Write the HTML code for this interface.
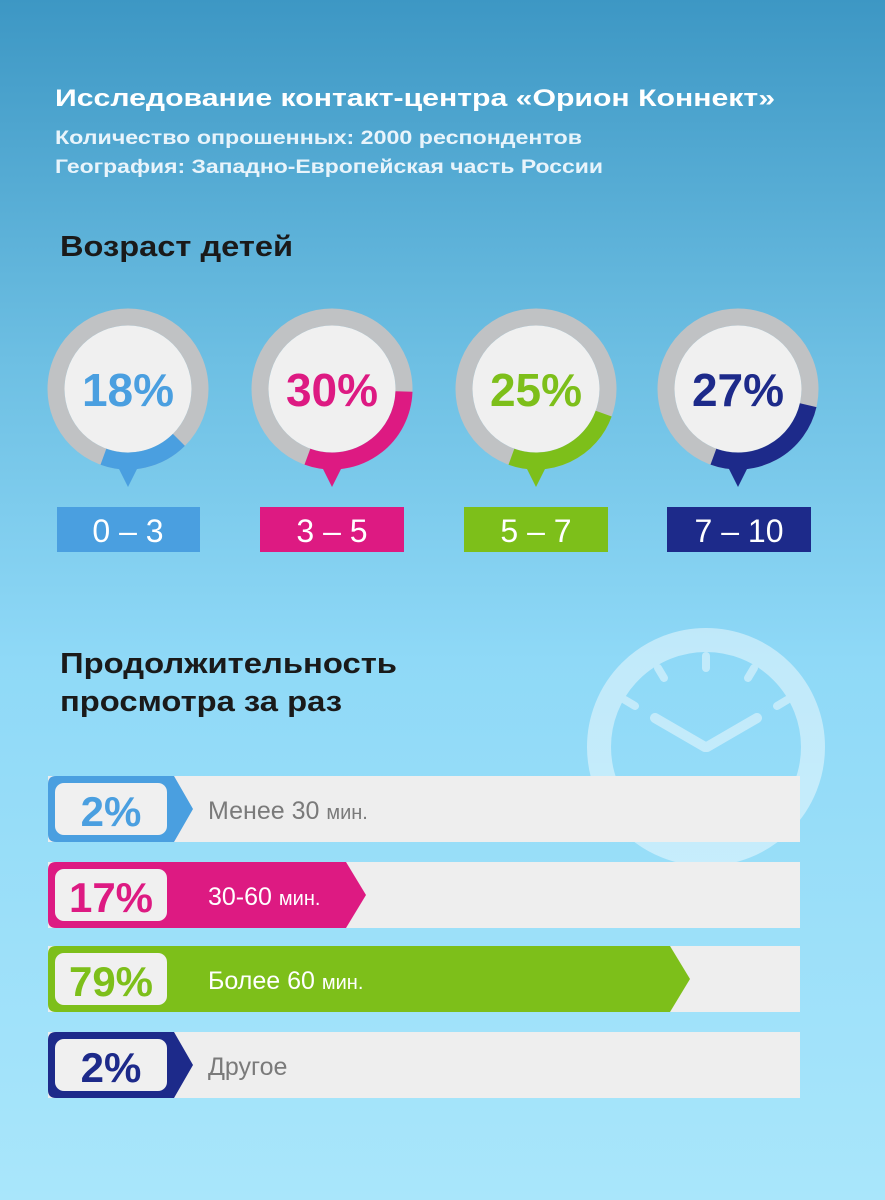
<!DOCTYPE html>
<html><head><meta charset="utf-8"><style>
html,body{margin:0;padding:0}
body{width:885px;height:1200px;overflow:hidden;font-family:"Liberation Sans","DejaVu Sans",sans-serif}
</style></head><body>
<svg width="885" height="1200" xmlns="http://www.w3.org/2000/svg" font-family="Liberation Sans, DejaVu Sans, sans-serif" style="display:block">
<defs>
<linearGradient id="bg" x1="0" y1="0" x2="0" y2="1">
<stop offset="0" stop-color="#3d97c4"/>
<stop offset="0.3" stop-color="#6dbfe3"/>
<stop offset="0.55" stop-color="#8fd9f7"/>
<stop offset="1" stop-color="#a9e6fb"/>
</linearGradient>
</defs>
<rect width="885" height="1200" fill="url(#bg)"/>
<!-- clock -->
<g opacity="0.45">
<circle cx="706" cy="747" r="107" fill="none" stroke="#ffffff" stroke-width="24"/>
<g stroke="#fff" stroke-width="8" stroke-linecap="round">
<line x1="706" y1="656" x2="706" y2="668"/>
<line x1="658" y1="668" x2="664" y2="678"/>
<line x1="754" y1="668" x2="748" y2="678"/>
<line x1="625" y1="700" x2="635" y2="706"/>
<line x1="787" y1="700" x2="777" y2="706"/>
<line x1="655" y1="718" x2="705" y2="747" stroke-width="10"/>
<line x1="757" y1="718" x2="707" y2="747" stroke-width="10"/>
</g>
</g>
<!-- header -->
<text x="55" y="106" fill="#fff" font-size="24" font-weight="bold" textLength="720" lengthAdjust="spacingAndGlyphs">Исследование контакт-центра «Орион Коннект»</text>
<text x="55" y="144" fill="#e8f4fb" font-size="19" font-weight="bold" textLength="527" lengthAdjust="spacingAndGlyphs">Количество опрошенных: 2000 респондентов</text>
<text x="55" y="173" fill="#e8f4fb" font-size="19" font-weight="bold" textLength="548" lengthAdjust="spacingAndGlyphs">География: Западно-Европейская часть России</text>
<text x="60" y="256" fill="#1a1a1a" font-size="29" font-weight="bold" textLength="233" lengthAdjust="spacingAndGlyphs">Возраст детей</text>

<!-- donuts -->
<g transform="translate(128,389)">
<circle r="72" fill="none" stroke="#c0c2c4" stroke-width="17"/>
<circle r="63.5" fill="#f0f0f0"/>
<path d="M 50.9 50.9 A 72 72 0 0 1 -24.6 67.7" fill="none" stroke="#4a9fe0" stroke-width="17"/>
<polygon points="-10,78 10,78 0,98" fill="#4a9fe0"/>
<text y="17" text-anchor="middle" font-size="46" font-weight="bold" fill="#4a9fe0">18%</text>
</g>
<g transform="translate(332,389)">
<circle r="72" fill="none" stroke="#c0c2c4" stroke-width="17"/>
<circle r="63.5" fill="#f0f0f0"/>
<path d="M 72 2.5 A 72 72 0 0 1 -24.6 67.7" fill="none" stroke="#dd1a82" stroke-width="17"/>
<polygon points="-10,78 10,78 0,98" fill="#dd1a82"/>
<text y="17" text-anchor="middle" font-size="46" font-weight="bold" fill="#dd1a82">30%</text>
</g>
<g transform="translate(536,389)">
<circle r="72" fill="none" stroke="#c0c2c4" stroke-width="17"/>
<circle r="63.5" fill="#f0f0f0"/>
<path d="M 67.7 24.6 A 72 72 0 0 1 -24.6 67.7" fill="none" stroke="#7dbf1a" stroke-width="17"/>
<polygon points="-10,78 10,78 0,98" fill="#7dbf1a"/>
<text y="17" text-anchor="middle" font-size="46" font-weight="bold" fill="#7dbf1a">25%</text>
</g>
<g transform="translate(738,389)">
<circle r="72" fill="none" stroke="#c0c2c4" stroke-width="17"/>
<circle r="63.5" fill="#f0f0f0"/>
<path d="M 70.2 16.2 A 72 72 0 0 1 -24.6 67.7" fill="none" stroke="#1d2a8a" stroke-width="17"/>
<polygon points="-10,78 10,78 0,98" fill="#1d2a8a"/>
<text y="17" text-anchor="middle" font-size="46" font-weight="bold" fill="#1d2a8a">27%</text>
</g>
<!-- age labels -->
<rect x="57" y="507" width="143" height="45" fill="#4a9fe0"/>
<text x="128" y="542" text-anchor="middle" fill="#fff" font-size="32">0 – 3</text>
<rect x="260" y="507" width="144" height="45" fill="#dd1a82"/>
<text x="332" y="542" text-anchor="middle" fill="#fff" font-size="32">3 – 5</text>
<rect x="464" y="507" width="144" height="45" fill="#7dbf1a"/>
<text x="536" y="542" text-anchor="middle" fill="#fff" font-size="32">5 – 7</text>
<rect x="667" y="507" width="144" height="45" fill="#1d2a8a"/>
<text x="739" y="542" text-anchor="middle" fill="#fff" font-size="32">7 – 10</text>

<text x="60" y="673" fill="#1a1a1a" font-size="29" font-weight="bold" textLength="337" lengthAdjust="spacingAndGlyphs">Продолжительность</text>
<text x="60" y="711" fill="#1a1a1a" font-size="29" font-weight="bold" textLength="282" lengthAdjust="spacingAndGlyphs">просмотра за раз</text>

<!-- bars -->
<g>
<rect x="48" y="776" width="752" height="66" fill="#eeeeee"/>
<path d="M56 776 H174 L193 809 L174 842 H56 Q48 842 48 834 V784 Q48 776 56 776Z" fill="#4a9fe0"/>
<rect x="55" y="783" width="112" height="52" rx="9" fill="#f0f0f0"/>
<text x="111" y="826" text-anchor="middle" font-size="42" font-weight="bold" fill="#4a9fe0">2%</text>
<text x="208" y="819" font-size="25" fill="#7a7a7a">Менее 30 <tspan font-size="20">мин.</tspan></text>

<rect x="48" y="862" width="752" height="66" fill="#eeeeee"/>
<path d="M56 862 H346 L366 895 L346 928 H56 Q48 928 48 920 V870 Q48 862 56 862Z" fill="#dd1a82"/>
<rect x="55" y="869" width="112" height="52" rx="9" fill="#f0f0f0"/>
<text x="111" y="912" text-anchor="middle" font-size="42" font-weight="bold" fill="#dd1a82">17%</text>
<text x="208" y="905" font-size="25" fill="#fff">30-60 <tspan font-size="20">мин.</tspan></text>

<rect x="48" y="946" width="752" height="66" fill="#eeeeee"/>
<path d="M56 946 H670 L690 979 L670 1012 H56 Q48 1012 48 1004 V954 Q48 946 56 946Z" fill="#7dbf1a"/>
<rect x="55" y="953" width="112" height="52" rx="9" fill="#f0f0f0"/>
<text x="111" y="996" text-anchor="middle" font-size="42" font-weight="bold" fill="#7dbf1a">79%</text>
<text x="208" y="989" font-size="25" fill="#fff">Более 60 <tspan font-size="20">мин.</tspan></text>

<rect x="48" y="1032" width="752" height="66" fill="#eeeeee"/>
<path d="M56 1032 H174 L193 1065 L174 1098 H56 Q48 1098 48 1090 V1040 Q48 1032 56 1032Z" fill="#1d2a8a"/>
<rect x="55" y="1039" width="112" height="52" rx="9" fill="#f0f0f0"/>
<text x="111" y="1082" text-anchor="middle" font-size="42" font-weight="bold" fill="#1d2a8a">2%</text>
<text x="208" y="1075" font-size="25" fill="#7a7a7a">Другое</text>
</g>
</svg>
</body></html>
